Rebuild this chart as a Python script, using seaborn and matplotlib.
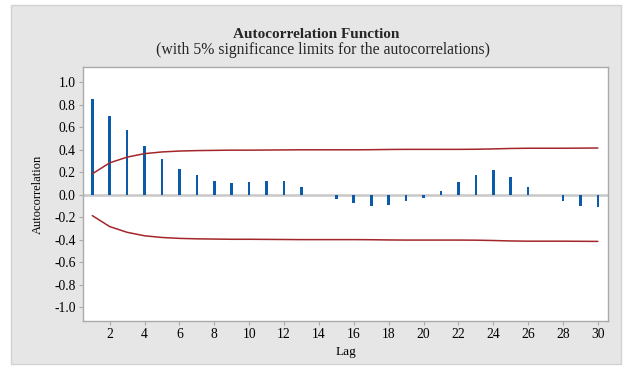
import numpy as np
import pandas as pd
import matplotlib
matplotlib.use("Agg")
import matplotlib.pyplot as plt
from matplotlib.patches import Rectangle
import seaborn as sns

# ---- data ----
lags = list(range(1, 31))
acf = [0.852, 0.698, 0.573, 0.435, 0.319, 0.233, 0.173, 0.123, 0.105, 0.114,
       0.123, 0.123, 0.073, 0.0, -0.040, -0.075, -0.100, -0.093, -0.058, -0.025,
       0.033, 0.110, 0.178, 0.220, 0.160, 0.070, 0.0, -0.060, -0.100, -0.110]
upper_limit = [0.186, 0.284, 0.335, 0.366, 0.381, 0.389, 0.393, 0.395, 0.397, 0.397,
               0.398, 0.399, 0.400, 0.400, 0.400, 0.400, 0.401, 0.403, 0.404, 0.404,
               0.404, 0.404, 0.405, 0.408, 0.412, 0.414, 0.414, 0.414, 0.415, 0.416]
lower_limit = [-v for v in upper_limit]
y_ticks = [-1.0, -0.8, -0.6, -0.4, -0.2, 0.0, 0.2, 0.4, 0.6, 0.8, 1.0]
x_ticks = list(range(2, 31, 2))

df = pd.DataFrame({"Lag": lags, "ACF": acf, "Upper": upper_limit, "Lower": lower_limit})

sns.set_theme(style="white")
plt.rcParams["font.family"] = ["Liberation Serif", "DejaVu Serif"]

W, H = 625, 367
fig = plt.figure(figsize=(W / 100, H / 100), dpi=100, facecolor="white")
fig.patches.append(Rectangle((11 / W, 1 - 364 / H), (621 - 11) / W, (364 - 5) / H,
                             transform=fig.transFigure, facecolor="#E6E6E6",
                             edgecolor="#D2D2D2", linewidth=1, zorder=-10))

ax_w = 608.3 - 82.7
ax_h = 321 - 67.3
ax = fig.add_axes([82.7 / W, 1 - 321 / H, ax_w / W, ax_h / H])
ax.set_zorder(5)
ax.set_facecolor("white")

ax.axhline(0, color="#C8C8C8", lw=1.8, zorder=1)
sns.barplot(data=df, x="Lag", y="ACF", native_scale=True, width=0.15,
            color="#0B5BAA", saturation=1, linewidth=0, ax=ax, zorder=2)
sns.lineplot(data=df, x="Lag", y="Upper", color="#A3262A", lw=1.1, ax=ax, zorder=3)
sns.lineplot(data=df, x="Lag", y="Lower", color="#A3262A", lw=1.1, ax=ax, zorder=3)

ax.set_xlim(0.45, 30.6)
ax.set_ylim(-1.125, 1.135)
ax.set_xticks(x_ticks)
ax.set_xticklabels([str(t) for t in x_ticks])
ax.set_yticks(y_ticks)
ax.set_yticklabels([f"{t:.1f}" for t in y_ticks])

for s in ax.spines.values():
    s.set_color("#AAAAAA")
    s.set_linewidth(1.0)
ax.tick_params(axis="both", which="both", direction="out", length=3, width=0.8,
               color="#AAAAAA", labelsize=9.8, labelcolor="black", pad=2,
               bottom=True, left=True)
ax.set_xlabel("Lag", fontsize=9.5, color="black", va="center")
ax.set_ylabel("Autocorrelation", fontsize=9, color="black", va="center")
ax.xaxis.set_label_coords(0.5, (321 - 352) / ax_h)
ax.yaxis.set_label_coords((38 - 82.7) / ax_w, (321 - 194) / ax_h)

fig.text(0.5 + (316 - 312.5) / W, 1 - 34 / H, "Autocorrelation Function", ha="center",
         va="center", fontsize=11, fontweight="bold")
fig.text(0.5 + (323 - 312.5) / W, 1 - 50 / H,
         "(with 5% significance limits for the autocorrelations)", ha="center",
         va="center", fontsize=11.3)

fig.savefig("out.png", dpi=100, facecolor="white")
